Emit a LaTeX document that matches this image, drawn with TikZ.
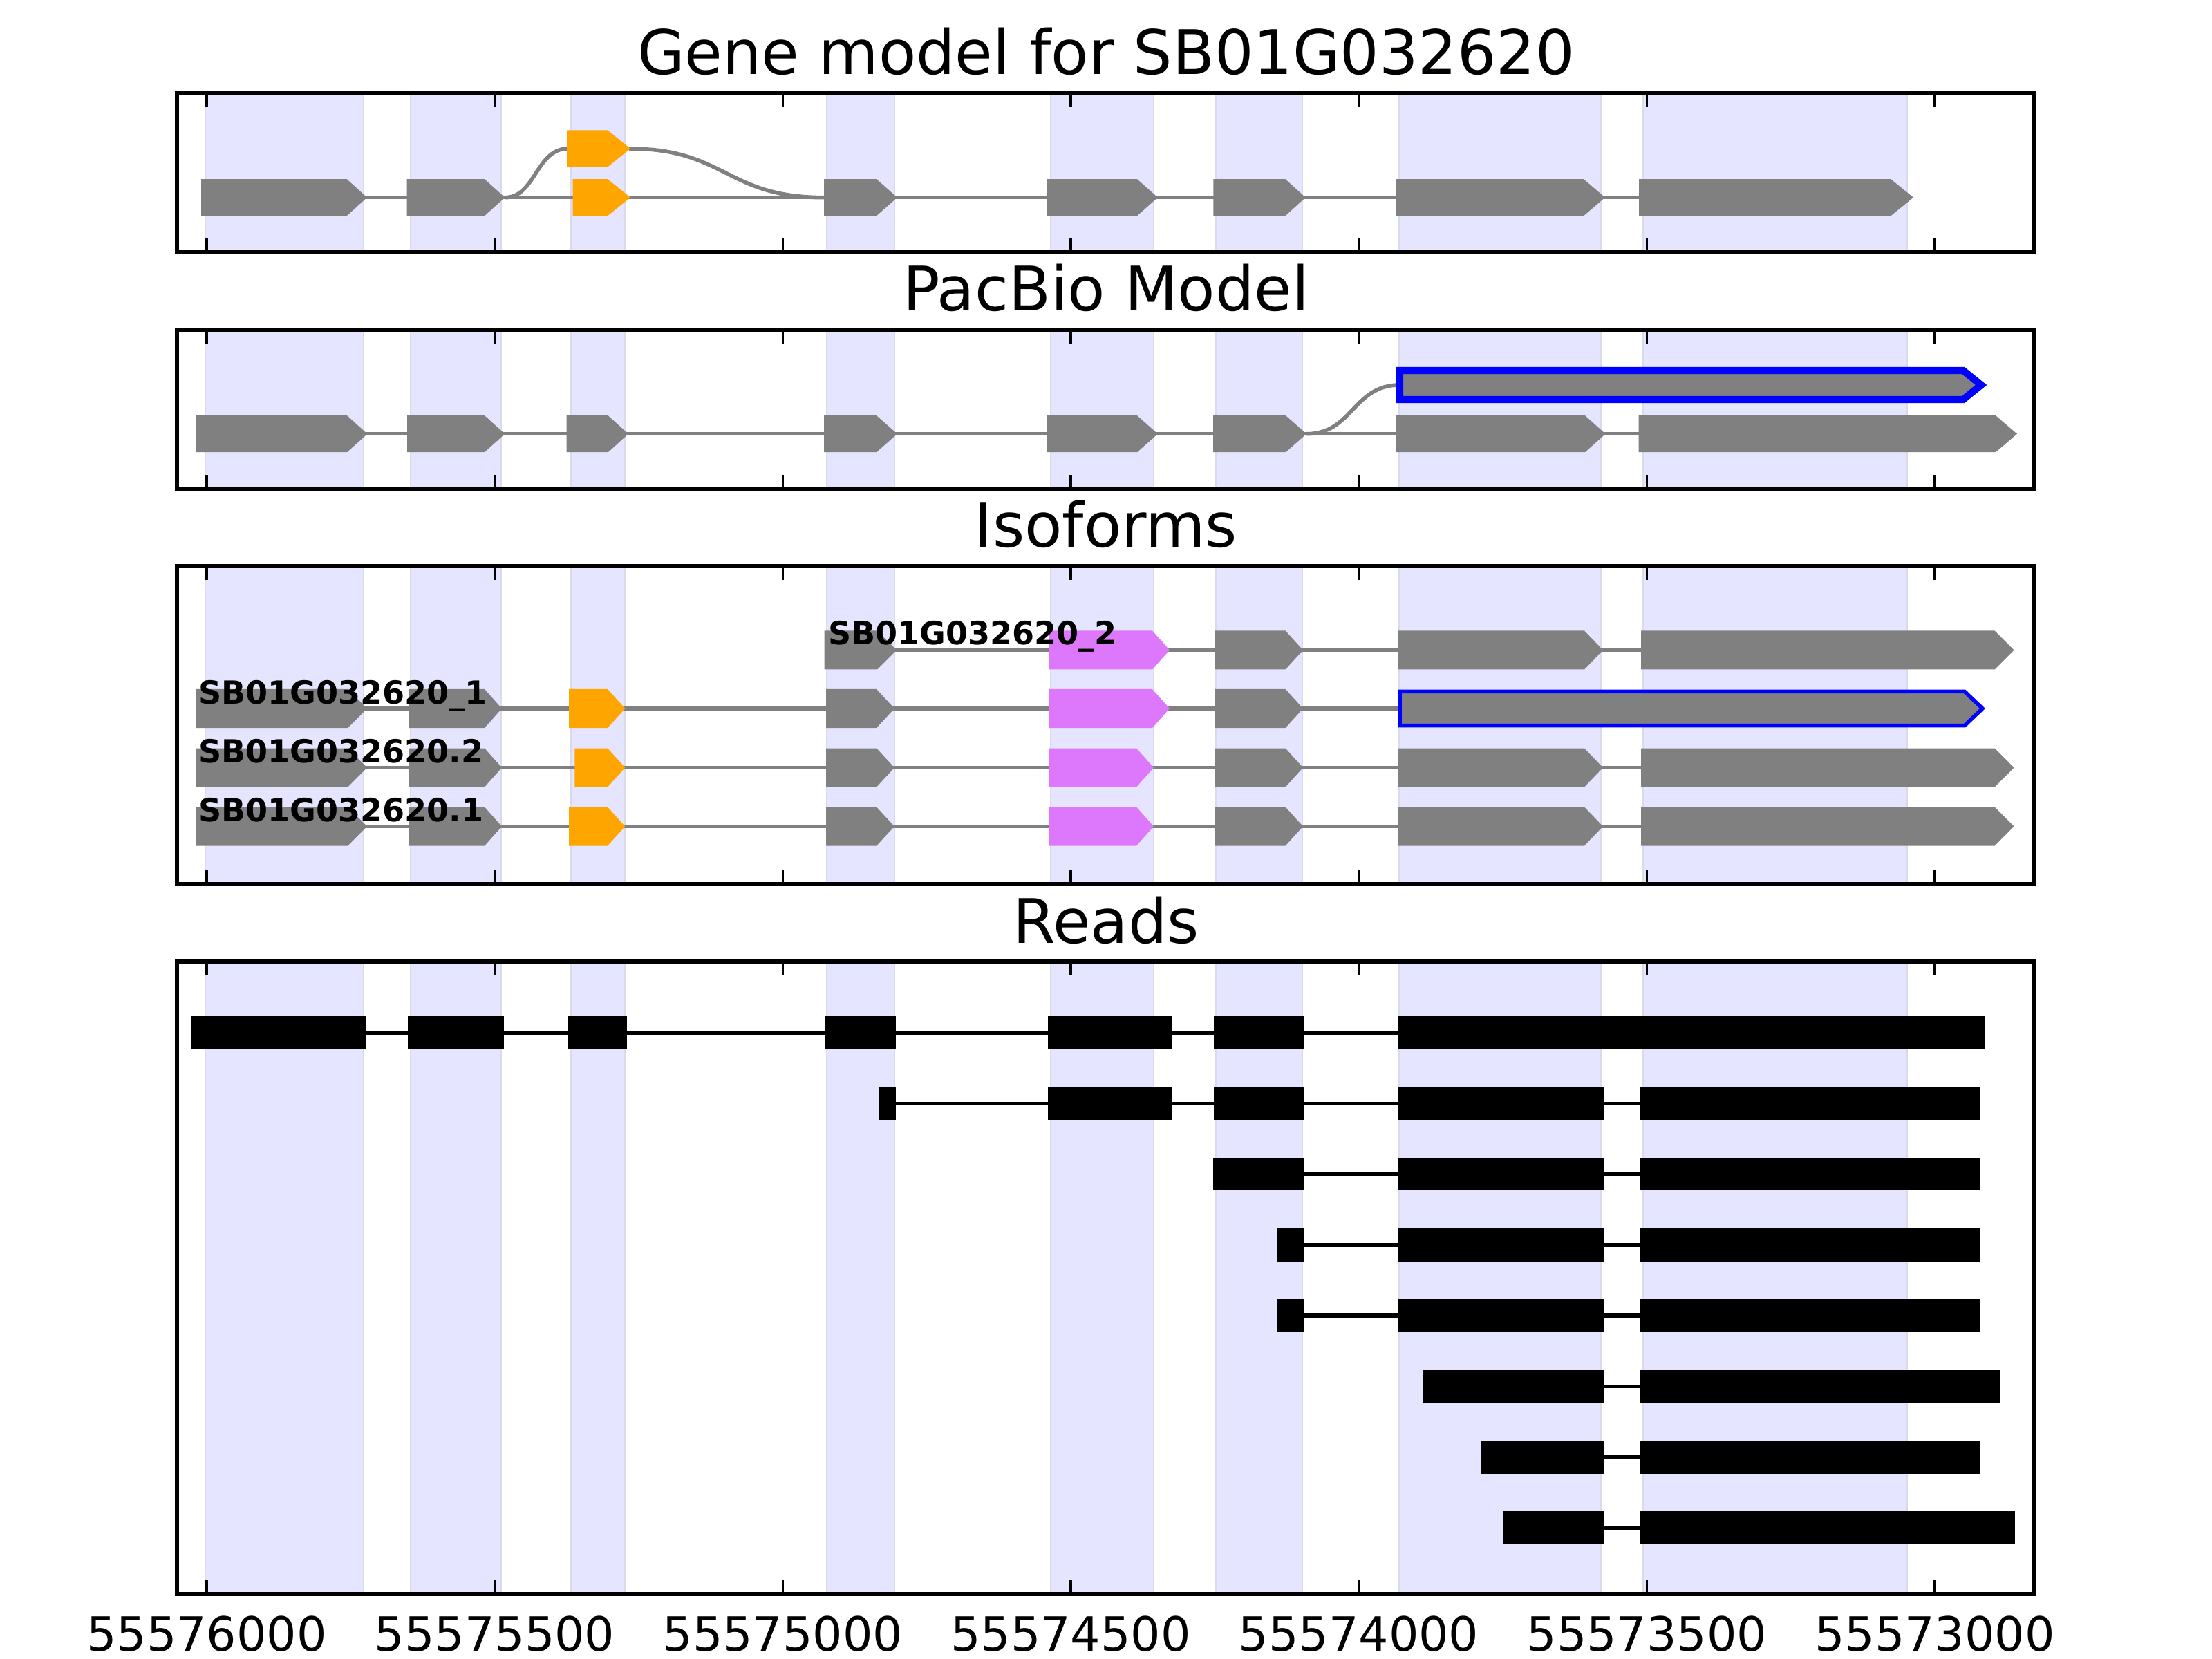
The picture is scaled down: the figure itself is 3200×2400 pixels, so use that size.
\documentclass[tikz,border=0pt]{standalone}
\usepackage{fontspec}
\setmainfont{DejaVu Sans}
\newcommand\titlefnt{\fontsize{16bp}{19bp}\selectfont}
\newcommand\tickfnt{\fontsize{12.3bp}{15bp}\selectfont}
\newcommand\lblfnt{\fontsize{8.3bp}{10bp}\selectfont\bfseries}
% gene arrow box: x0, xflat, xtip, yc, halfheight, color
\newcommand\gbx[6]{\fill[#6] (#1,{#4-#5}) -- (#2,{#4-#5}) -- (#3,#4) -- (#2,{#4+#5}) -- (#1,{#4+#5}) -- cycle;}
% read box: x0, x1, yc
\newcommand\rbx[3]{\filldraw[fill=black,draw=black,line width=0.3bp] (#1,{#3-23}) rectangle (#2,{#3+23});}
\definecolor{spanc}{rgb}{0.898,0.898,1}
\definecolor{spanedge}{rgb}{0.855,0.855,0.93}
\definecolor{gr}{rgb}{0.5,0.5,0.5}
\definecolor{pinkx}{RGB}{221,119,252}
\definecolor{orangex}{RGB}{255,165,0}
\tikzset{
  gline/.style={draw=gr,line width=1bp},
  rline/.style={draw=black,line width=1bp},
  frame/.style={draw=black,line width=1bp},
  tickln/.style={draw=black,line width=0.6bp},
  ttl/.style={anchor=base,inner sep=0pt,font=\titlefnt},
  tlab/.style={anchor=base,inner sep=0pt,font=\tickfnt},
  isolab/.style={anchor=base west,inner sep=0pt,font=\lblfnt},
  bluebox/.style={fill=gr,draw=blue,line join=miter}
}
\begin{document}
\begin{tikzpicture}[x=0.0025in,y=-0.0025in]
\useasboundingbox[fill=white] (0,0) rectangle (3200,2400);
% shaded exon spans and ticks in every panel
\foreach \t/\b in {135/365,477/707,819/1279,1391/2306} {
  \foreach \a/\c in {297/526,594/725,826/904,1196/1294,1520/1669,1759/1884,2024/2316,2377/2759}
    \filldraw[fill=spanc,draw=spanedge,line width=0.4bp] (\a,\t) rectangle (\c,\b);
  \foreach \k in {0,...,6} {
    \draw[tickln] ({299+416.67*\k},\t) -- ++(0,20);
    \draw[tickln] ({299+416.67*\k},\b) -- ++(0,-20);
  }
}
% ---------- Panel 1: gene model ----------
\node[ttl] (t1) at (1600,108) {Gene model for SB01G032620};
\coordinate (p1a) at (291,285.7);
\coordinate (p1b) at (2371,285.7);
\draw[gline] (p1a) -- (p1b);
\draw[gline] (730.4,285.7) .. controls (775,285.7) and (775,215) .. (822,215);
\draw[gline] (910,215) .. controls (1050,215) and (1050,285.7) .. (1192,285.7);
\gbx{291}{501.7}{531}{285.7}{26.5}{gr}
\gbx{588.6}{701}{730.4}{285.7}{26.5}{gr}
\gbx{820}{879}{912}{215}{26.5}{orangex}
\gbx{828.6}{879}{912}{285.7}{26.5}{orangex}
\gbx{1192}{1268}{1298}{285.7}{26.5}{gr}
\gbx{1514.7}{1645}{1675}{285.7}{26.5}{gr}
\gbx{1755.3}{1859.4}{1888.7}{285.7}{26.5}{gr}
\gbx{2020}{2291}{2322}{285.7}{26.5}{gr}
\gbx{2371}{2735.4}{2768}{285.7}{26.5}{gr}
% ---------- Panel 2: PacBio ----------
\node[ttl] (t2) at (1600,450) {PacBio Model};
\draw[gline] (283.4,627.7) -- (2370.7,627.7);
\draw[gline] (1889.9,627.7) .. controls (1957,627.7) and (1957,557) .. (2025,557);
\gbx{283.4}{502}{531.5}{627.7}{26.5}{gr}
\gbx{589}{701}{730.4}{627.7}{26.5}{gr}
\gbx{819.7}{879.7}{909}{627.7}{26.5}{gr}
\gbx{1192}{1268}{1298}{627.7}{26.5}{gr}
\gbx{1515}{1645}{1675}{627.7}{26.5}{gr}
\gbx{1755}{1860}{1890}{627.7}{26.5}{gr}
\gbx{2020}{2293}{2322.6}{627.7}{26.5}{gr}
\gbx{2370.7}{2887}{2918}{627.7}{26.5}{gr}
\filldraw[bluebox,line width=1.85bp] (2025,536) -- (2840,536) -- (2866,557) -- (2840,578) -- (2025,578) -- cycle;
% ---------- Panel 3: Isoforms ----------
\node[ttl] (t3) at (1600,792) {Isoforms};
% row 1
\draw[gline] (1192.5,940.5) -- (2374,940.5);
\gbx{1192.5}{1269}{1297}{940.5}{28}{gr}
\gbx{1517.7}{1667}{1692}{940.5}{28}{pinkx}
\gbx{1757.5}{1859.6}{1885}{940.5}{28}{gr}
\gbx{2022.8}{2292}{2319}{940.5}{28}{gr}
\gbx{2374}{2885.6}{2913.7}{940.5}{28}{gr}
% row 2
\draw[gline] (284.2,1025) -- (2025,1025);
\gbx{284.2}{503}{531}{1025}{28}{gr}
\gbx{592}{701}{726}{1025}{28}{gr}
\gbx{823}{879}{904.3}{1025}{28}{orangex}
\gbx{1195}{1268}{1294}{1025}{28}{gr}
\gbx{1517.7}{1667}{1692}{1025}{28}{pinkx}
\gbx{1757.5}{1859.6}{1885}{1025}{28}{gr}
\filldraw[bluebox,line width=1bp] (2025,1000.3) -- (2842,1000.3) -- (2868,1025) -- (2842,1049.7) -- (2025,1049.7) -- cycle;
% rows 3 and 4
\foreach \yc/\ox in {1110.5/831.4,1195.5/823} {
  \draw[gline] (284.2,\yc) -- (2374,\yc);
  \gbx{284.2}{503}{531}{\yc}{28}{gr}
  \gbx{592}{701}{726}{\yc}{28}{gr}
  \gbx{\ox}{879}{904.3}{\yc}{28}{orangex}
  \gbx{1195}{1268}{1294}{\yc}{28}{gr}
  \gbx{1517.7}{1644}{1669}{\yc}{28}{pinkx}
  \gbx{1757.5}{1859.6}{1885}{\yc}{28}{gr}
  \gbx{2022.8}{2292}{2319}{\yc}{28}{gr}
  \gbx{2374}{2885.6}{2913.7}{\yc}{28}{gr}
}
\node[isolab] (l1) at (1197,933) {SB01G032620\_2};
\node[isolab] (l2) at (286,1018) {SB01G032620\_1};
\node[isolab] (l3) at (286,1103) {SB01G032620.2};
\node[isolab] (l4) at (286,1188) {SB01G032620.1};
% ---------- Panel 4: Reads ----------
\node[ttl] (t4) at (1600,1364) {Reads};
% read 1
\draw[rline] (277,1494) -- (2871,1494);
\rbx{277}{528.3}{1494}
\rbx{590.8}{728.5}{1494}
\rbx{822.3}{906.4}{1494}
\rbx{1194.8}{1295.2}{1494}
\rbx{1517.3}{1694.1}{1494}
\rbx{1756.7}{1886.4}{1494}
\rbx{2022.7}{2871.2}{1494}
% read 2
\draw[rline] (1272.8,1596.3) -- (2863.9,1596.3);
\rbx{1272.8}{1295.2}{1596.3}
\rbx{1517.3}{1694.1}{1596.3}
\rbx{1756.7}{1886.4}{1596.3}
\rbx{2022.7}{2319.6}{1596.3}
\rbx{2372.9}{2863.9}{1596.3}
% read 3
\draw[rline] (1755.5,1698.6) -- (2863.9,1698.6);
\rbx{1755.5}{1886.4}{1698.6}
\rbx{2022.7}{2319.6}{1698.6}
\rbx{2372.9}{2863.9}{1698.6}
% reads 4 and 5
\foreach \yc in {1800.9,1903.2} {
  \draw[rline] (1848.5,\yc) -- (2863.9,\yc);
  \rbx{1848.5}{1886.4}{\yc}
  \rbx{2022.7}{2319.6}{\yc}
  \rbx{2372.9}{2863.9}{\yc}
}
% reads 6-8
\foreach \yc/\xs/\xe in {2005.5/2060/2892,2107.8/2143.3/2863.9,2210.1/2176.3/2914.1} {
  \draw[rline] (\xs,\yc) -- (\xe,\yc);
  \rbx{\xs}{2319.6}{\yc}
  \rbx{2372.9}{\xe}{\yc}
}
% tick labels
\foreach \k/\lab in {0/55576000,1/55575500,2/55575000,3/55574500,4/55574000,5/55573500,6/55573000}
  \node[tlab] (tk\k) at ({299+416.67*\k},2388) {\lab};
% frames
\foreach \t/\b in {135/365,477/707,819/1279,1391/2306}
  \draw[frame] (256,\t) rectangle (2943,\b);
\end{tikzpicture}
\end{document}
